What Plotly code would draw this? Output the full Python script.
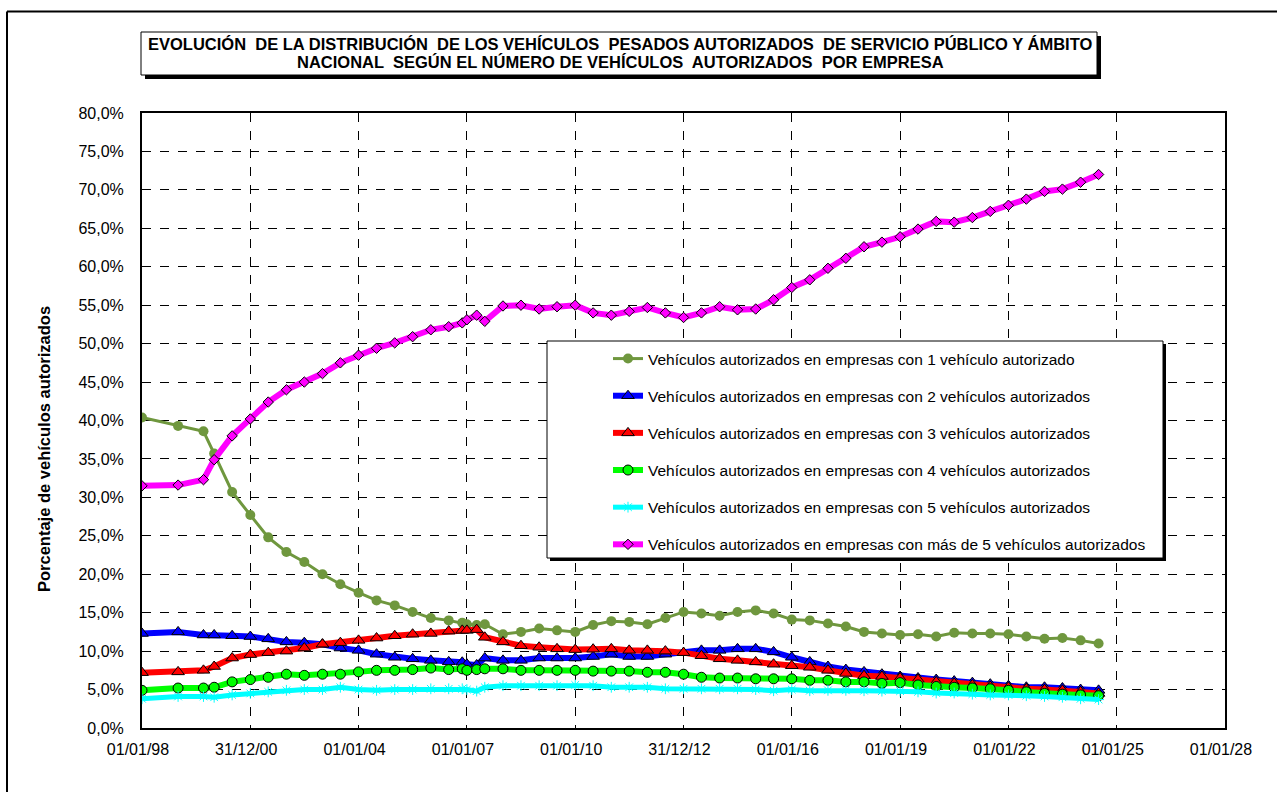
import plotly.graph_objects as go

dates = ["1998-01-01","1999-01-01","1999-09-15","2000-01-01","2000-07-01","2001-01-01","2001-07-01",
         "2002-01-01","2002-07-01","2003-01-01","2003-07-01","2004-01-01","2004-07-01","2005-01-01",
         "2005-07-01","2006-01-01","2006-07-01","2006-11-15","2007-01-01","2007-04-10","2007-07-01",
         "2008-01-01","2008-07-01","2009-01-01","2009-07-01","2010-01-01","2010-07-01","2011-01-01",
         "2011-07-01","2012-01-01","2012-07-01","2013-01-01","2013-07-01","2014-01-01","2014-07-01",
         "2015-01-01","2015-07-01","2016-01-01","2016-07-01","2017-01-01","2017-07-01","2018-01-01",
         "2018-07-01","2019-01-01","2019-07-01","2020-01-01","2020-07-01","2021-01-01","2021-07-01",
         "2022-01-01","2022-07-01","2023-01-01","2023-07-01","2024-01-01","2024-07-01"]

con_1 = [40.4, 39.3, 38.6, 35.7, 30.7, 27.7, 24.8, 22.9, 21.6, 20.0, 18.7, 17.6, 16.6, 15.95, 15.1,
         14.3, 14.0, 13.7, 13.5, 13.4, 13.5,
         12.2, 12.5, 12.95, 12.7, 12.5, 13.4, 13.9, 13.8, 13.5, 14.3, 15.1, 14.9, 14.6, 15.1,
         15.3, 14.9, 14.1, 14.0, 13.6, 13.2, 12.5, 12.3, 12.1, 12.2, 11.9, 12.4, 12.3, 12.3, 12.2,
         11.9, 11.6, 11.7, 11.4, 11.0]
con_2 = [12.3, 12.5, 12.1, 12.1, 12.0, 11.9, 11.6, 11.2, 11.1, 10.9, 10.4, 10.1, 9.6, 9.2, 9.0,
         8.8, 8.6, 8.55, 8.3, 8.2, 9.1,
         8.8, 8.8, 9.1, 9.1, 9.1, 9.3, 9.6, 9.3, 9.3, 9.6, 9.8, 10.1, 10.1, 10.3,
         10.3, 9.9, 9.2, 8.6, 8.0, 7.6, 7.3, 7.0, 6.7, 6.5, 6.3, 6.1, 5.9, 5.7, 5.5,
         5.3, 5.3, 5.2, 5.0, 4.9]
con_3 = [7.2, 7.3, 7.5, 8.0, 9.1, 9.55, 9.8, 10.0, 10.4, 10.9, 11.1, 11.4, 11.7, 12.0, 12.2,
         12.3, 12.6, 12.7, 12.7, 12.8, 11.8,
         11.2, 10.7, 10.5, 10.3, 10.2, 10.25, 10.3, 10.1, 10.1, 10.0, 9.8, 9.4, 9.0, 8.8,
         8.6, 8.3, 8.1, 7.9, 7.5, 7.1, 6.8, 6.7, 6.5, 6.3, 6.0, 5.8, 5.6, 5.4, 5.3,
         5.1, 5.0, 4.9, 4.7, 4.5]
con_4 = [4.9, 5.2, 5.2, 5.3, 6.0, 6.3, 6.6, 7.0, 6.85, 7.0, 7.0, 7.3, 7.5, 7.5, 7.6,
         7.8, 7.6, 7.7, 7.5, 7.6, 7.7,
         7.7, 7.5, 7.5, 7.5, 7.5, 7.4, 7.4, 7.4, 7.25, 7.25, 7.0, 6.6, 6.5, 6.5,
         6.4, 6.4, 6.4, 6.2, 6.2, 6.0, 6.0, 5.8, 5.9, 5.6, 5.4, 5.3, 5.2, 5.1, 4.9,
         4.7, 4.5, 4.4, 4.3, 4.2]
con_5 = [3.8, 4.1, 4.1, 4.0, 4.3, 4.5, 4.7, 4.9, 5.0, 5.0, 5.3, 5.0, 4.9, 5.0, 5.0,
         5.1, 5.1, 5.1, 5.0, 4.8, 5.3,
         5.5, 5.5, 5.5, 5.5, 5.6, 5.5, 5.3, 5.3, 5.3, 5.1, 5.1, 5.1, 5.1, 5.1,
         5.0, 4.85, 5.0, 4.85, 4.9, 4.9, 4.85, 4.8, 4.8, 4.7, 4.55, 4.55, 4.4, 4.3, 4.3,
         4.2, 4.1, 4.0, 3.8, 3.7]
con_mas5 = [31.5, 31.6, 32.3, 34.9, 38.0, 40.2, 42.4, 44.0, 45.0, 46.1, 47.5, 48.5, 49.4, 50.1, 50.9,
            51.8, 52.2, 52.7, 53.1, 53.7, 52.9,
            54.9, 55.0, 54.5, 54.8, 55.0, 54.0, 53.7, 54.2, 54.7, 54.0, 53.4, 54.0, 54.8, 54.4,
            54.5, 55.7, 57.3, 58.3, 59.8, 61.1, 62.6, 63.2, 63.9, 64.9, 65.9, 65.8, 66.4, 67.2, 68.0,
            68.8, 69.8, 70.1, 71.0, 72.0]

series_names = [
    "Vehículos autorizados en empresas con 1 vehículo autorizado",
    "Vehículos autorizados en empresas con 2 vehículos autorizados",
    "Vehículos autorizados en empresas con 3 vehículos autorizados",
    "Vehículos autorizados en empresas con 4 vehículos autorizados",
    "Vehículos autorizados en empresas con 5 vehículos autorizados",
    "Vehículos autorizados en empresas con más de 5 vehículos autorizados",
]

title_lines = [
    "EVOLUCIÓN  DE LA DISTRIBUCIÓN  DE LOS VEHÍCULOS  PESADOS AUTORIZADOS  DE SERVICIO PÚBLICO Y ÁMBITO",
    "NACIONAL  SEGÚN EL NÚMERO DE VEHÍCULOS  AUTORIZADOS  POR EMPRESA",
]
y_title = "Porcentaje de vehículos autorizados"

x_tick_dates = ["1998-01-01","2000-12-31","2004-01-01","2007-01-01","2010-01-01","2012-12-31",
                "2016-01-01","2019-01-01","2022-01-01","2025-01-01","2028-01-01"]
x_tick_labels = ["01/01/98","31/12/00","01/01/04","01/01/07","01/01/10","31/12/12",
                 "01/01/16","01/01/19","01/01/22","01/01/25","01/01/28"]
y_tick_vals = list(range(0, 81, 5))
y_tick_labels = [f"{v:.1f}%".replace(".", ",") for v in y_tick_vals]

FONT = "Arial, Liberation Sans, sans-serif"

styles = [
    dict(line=dict(color="#6F973E", width=3),
         marker=dict(symbol="circle", size=10, color="#6F973E", line=dict(width=0))),
    dict(line=dict(color="#0000FF", width=6),
         marker=dict(symbol="triangle-up", size=11, color="#0000FF", line=dict(color="black", width=1))),
    dict(line=dict(color="#FF0000", width=6),
         marker=dict(symbol="triangle-up", size=11, color="#FF0000", line=dict(color="black", width=1))),
    dict(line=dict(color="#00FF00", width=6),
         marker=dict(symbol="circle", size=10, color="#00FF00", line=dict(color="black", width=1))),
    dict(line=dict(color="#00FFFF", width=5),
         marker=dict(symbol="asterisk-open", size=9, color="#00FFFF", line=dict(color="#00FFFF", width=1))),
    dict(line=dict(color="#FF00FF", width=6),
         marker=dict(symbol="diamond", size=8, color="#FF00FF", line=dict(color="black", width=1))),
]

fig = go.Figure()
for i, (name, vals) in enumerate(zip(series_names, [con_1, con_2, con_3, con_4, con_5, con_mas5])):
    fig.add_trace(go.Scatter(x=dates, y=vals, name=name, mode="lines+markers",
                             legendgroup=f"g{i}", **styles[i]))

# plot area geometry (px) used for paper coords of decorations
L, R, T, B = 142, 1225, 113, 728
W, H = R - L, B - T
def px(x):
    return (x - L) / W
def py(y):
    return (B - y) / H

shapes = []
# outer chart border (top + left)
shapes.append(dict(type="line", xref="paper", yref="paper", x0=px(7), x1=px(1290), y0=py(11.5), y1=py(11.5),
                   line=dict(color="black", width=2), layer="above"))
shapes.append(dict(type="line", xref="paper", yref="paper", x0=px(7), x1=px(7), y0=py(11.5), y1=py(800),
                   line=dict(color="black", width=2), layer="above"))
# title box with shadow
shapes.append(dict(type="rect", xref="paper", yref="paper", x0=px(145), x1=px(1101), y0=py(79), y1=py(36),
                   fillcolor="black", line=dict(width=0), layer="above"))
shapes.append(dict(type="rect", xref="paper", yref="paper", x0=px(141), x1=px(1097), y0=py(75), y1=py(32),
                   fillcolor="white", line=dict(color="black", width=1), layer="above"))
# legend box with shadow
shapes.append(dict(type="rect", xref="paper", yref="paper", x0=px(550), x1=px(1166), y0=py(561), y1=py(344),
                   fillcolor="black", line=dict(width=0), layer="above"))
shapes.append(dict(type="rect", xref="paper", yref="paper", x0=px(547), x1=px(1163), y0=py(558), y1=py(341),
                   fillcolor="white", line=dict(color="black", width=1), layer="above"))

annotations = [
    dict(xref="paper", yref="paper", x=px(620), y=py(44), xanchor="center", yanchor="middle",
         text=f"<b>{title_lines[0]}</b>", showarrow=False,
         font=dict(family=FONT, size=16.5, color="black")),
    dict(xref="paper", yref="paper", x=px(620), y=py(62), xanchor="center", yanchor="middle",
         text=f"<b>{title_lines[1]}</b>", showarrow=False,
         font=dict(family=FONT, size=16.5, color="black")),
    dict(xref="paper", yref="paper", x=px(44), y=py(449), xanchor="center", yanchor="middle",
         text=f"<b>{y_title}</b>", textangle=-90,
         showarrow=False, font=dict(family=FONT, size=16.5, color="black")),
]

fig.update_layout(
    width=1277, height=792,
    margin=dict(l=L, r=1277 - R, t=T, b=792 - B, pad=0),
    paper_bgcolor="white", plot_bgcolor="white",
    font=dict(family=FONT, size=16, color="black"),
    showlegend=True,
    legend=dict(x=px(608), y=py(342), xanchor="left", yanchor="top", bgcolor="rgba(0,0,0,0)",
                borderwidth=0, font=dict(family=FONT, size=15.5, color="black"),
                tracegroupgap=14, itemwidth=30, traceorder="grouped"),
    shapes=shapes, annotations=annotations,
    hovermode=False,
)
fig.update_xaxes(type="date", range=["1998-01-01", "2028-01-01"], tickmode="array",
                 tickvals=x_tick_dates, ticktext=x_tick_labels, showgrid=True, gridcolor="black",
                 griddash="dash", gridwidth=1, showline=True, linecolor="black", linewidth=2, mirror=True,
                 ticks="", ticklabelstandoff=6, ticklabelshift=-4,
                 tickfont=dict(family=FONT, size=16), zeroline=False)
fig.update_yaxes(range=[0, 80], tickmode="array", tickvals=y_tick_vals, ticktext=y_tick_labels,
                 showgrid=True, gridcolor="black", griddash="dash", gridwidth=1, showline=True,
                 linecolor="black", linewidth=2, mirror=True, ticks="", ticklabelstandoff=13,
                 tickfont=dict(family=FONT, size=16), zeroline=False)

fig.write_html("out.html", config={"displayModeBar": False},
               post_script="document.body.style.margin='0';")
